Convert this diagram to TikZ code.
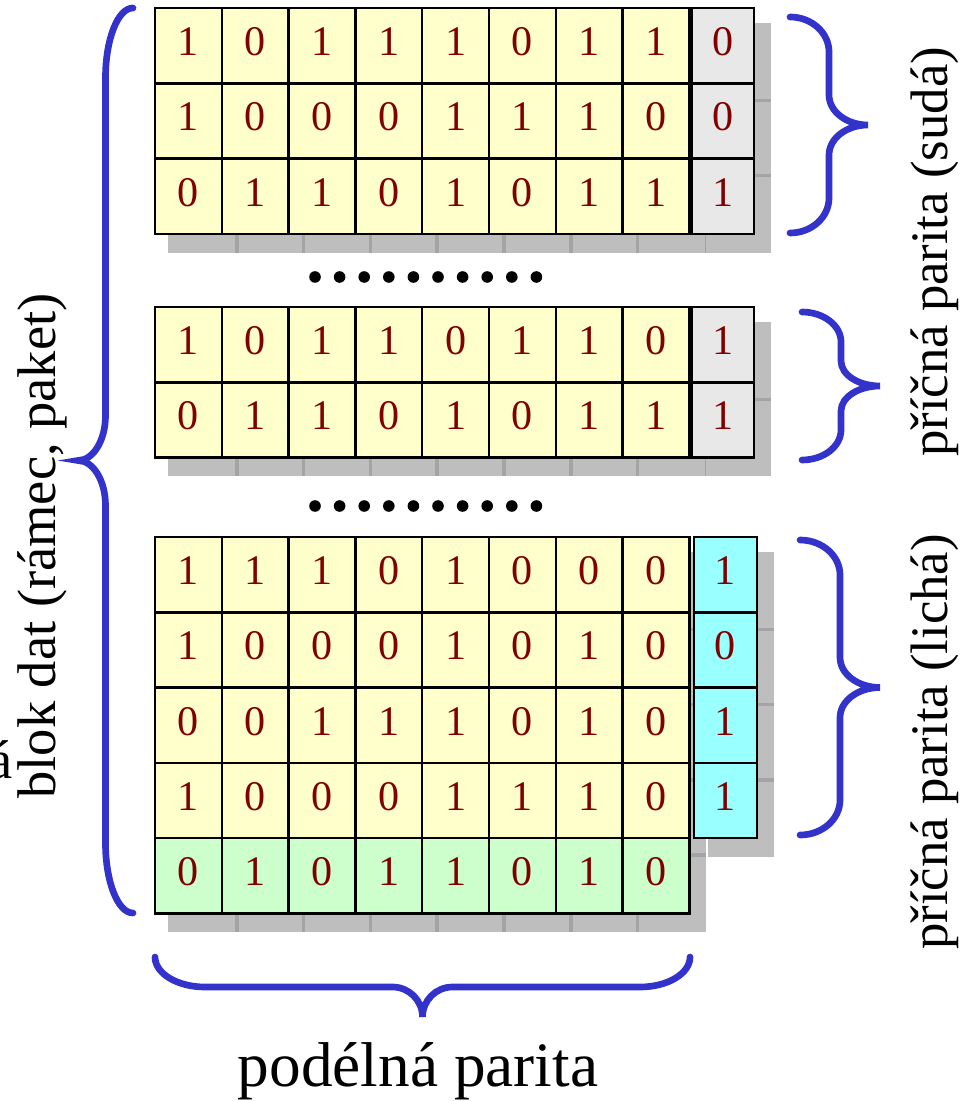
\documentclass[tikz,border=0pt]{standalone}
\usepackage{fontspec}
\setmainfont{Liberation Serif}
\usetikzlibrary{calc, backgrounds}

\definecolor{celly}{RGB}{255,255,204}
\definecolor{cellg}{RGB}{204,255,204}
\definecolor{cellc}{RGB}{153,255,255}
\definecolor{cellp}{RGB}{232,232,232}
\definecolor{bitred}{RGB}{128,0,0}
\definecolor{braceblue}{RGB}{51,51,204}
\definecolor{shadowgray}{RGB}{147,147,147}

\tikzset{
	bit/.style={rectangle, draw=black, line width=0.7pt, inner sep=0pt,
		minimum width=6.68mm, minimum height=7.53mm, text=bitred,
		font=\rmfamily\fontsize{12}{14}\selectfont, text depth=2.3pt},
	pbit/.style={bit, minimum width=6.25mm},
	cellshadow/.style={fill=shadowgray, fill opacity=0.6},
	bracestyle/.style={draw=braceblue, line width=1.9pt, line cap=round},
	lbl/.style={font=\rmfamily\fontsize{15}{18}\selectfont, inner sep=0pt}
}

% shadow under a cell
\newcommand{\castshadow}[1]{%
	\begin{scope}[on background layer]
		\fill[cellshadow] ($(#1.south west)+(0.145,-0.175)$) rectangle ($(#1.north east)+(0.155,-0.165)$);
	\end{scope}}

% brace: start, rotation, length, depth, end curl, tip curl
\newcommand{\parbrace}[6]{%
	\begin{scope}[shift={#1}, rotate=#2]
		\pgfmathsetmacro{\brL}{#3}
		\pgfmathsetmacro{\brD}{#4}
		\pgfmathsetmacro{\brH}{#4/2}
		\pgfmathsetmacro{\brM}{#3/2}
		\draw[bracestyle] (0,0) .. controls (0,{-0.552*\brH}) and ({0.448*#5},-\brH) .. (#5,-\brH)
		-- ({\brM-#6},-\brH) .. controls ({\brM-0.448*#6},-\brH) and (\brM,{-\brD+0.552*\brH}) .. (\brM,-\brD)
		.. controls (\brM,{-\brD+0.552*\brH}) and ({\brM+0.448*#6},-\brH) .. ({\brM+#6},-\brH)
		-- ({\brL-#5},-\brH) .. controls ({\brL-0.448*#5},-\brH) and (\brL,{-0.552*\brH}) .. (\brL,0);
	\end{scope}}

\begin{document}
\begin{tikzpicture}
	\useasboundingbox (0,0) rectangle (9.71,-11.01);
	
	% first block, even parity
	\foreach \row [count=\r] in {{1,0,1,1,1,0,1,1,0},{1,0,0,0,1,1,1,0,0},{0,1,1,0,1,0,1,1,1}} {
		\foreach \b [count=\c] in \row {
			\ifnum\c<9
			\node[bit, fill=celly] (a-\r-\c) at ({1.55+0.668*(\c-0.5)},{-0.08-0.753*(\r-0.5)}) {\b};
			\castshadow{a-\r-\c}
			\else
			\node[pbit, fill=cellp] (a-\r-p) at (7.23,{-0.08-0.753*(\r-0.5)}) {\b};
			\castshadow{a-\r-p}
			\fi
		}
	}
	
	% second block
	\foreach \row [count=\r] in {{1,0,1,1,0,1,1,0,1},{0,1,1,0,1,0,1,1,1}} {
		\foreach \b [count=\c] in \row {
			\ifnum\c<9
			\node[bit, fill=celly] (b-\r-\c) at ({1.55+0.668*(\c-0.5)},{-3.07-0.753*(\r-0.5)}) {\b};
			\castshadow{b-\r-\c}
			\else
			\node[pbit, fill=cellp] (b-\r-p) at (7.23,{-3.07-0.753*(\r-0.5)}) {\b};
			\castshadow{b-\r-p}
			\fi
		}
	}
	
	% third block, odd parity
	\foreach \row [count=\r] in {{1,1,1,0,1,0,0,0,1},{1,0,0,0,1,0,1,0,0},{0,0,1,1,1,0,1,0,1},{1,0,0,0,1,1,1,0,1}} {
		\foreach \b [count=\c] in \row {
			\ifnum\c<9
			\node[bit, fill=celly] (c-\r-\c) at ({1.55+0.668*(\c-0.5)},{-5.37-0.753*(\r-0.5)}) {\b};
			\castshadow{c-\r-\c}
			\else
			\node[pbit, fill=cellc] (c-\r-p) at (7.255,{-5.37-0.753*(\r-0.5)}) {\b};
			\castshadow{c-\r-p}
			\fi
		}
	}
	
	% longitudinal parity row
	\foreach \b [count=\c] in {0,1,0,1,1,0,1,0} {
		\node[bit, fill=cellg] (l-\c) at ({1.55+0.668*(\c-0.5)},{-5.37-0.753*4.5}) {\b};
		\castshadow{l-\c}
	}
	
	% dots
	\foreach \k in {0,...,9} {
		\fill ({3.15+0.246*\k},-2.77) circle (0.058);
		\fill ({3.15+0.246*\k},-5.06) circle (0.058);
	}
	
	% braces
	\parbrace{(1.33,-0.08)}{-90}{9.05}{0.55}{0.7}{0.45}
	\parbrace{(7.90,-2.33)}{90}{2.16}{0.78}{0.35}{0.30}
	\parbrace{(8.02,-4.60)}{90}{1.48}{0.78}{0.30}{0.25}
	\parbrace{(8.00,-8.35)}{90}{2.95}{0.80}{0.35}{0.30}
	\parbrace{(1.55,-9.57)}{0}{5.35}{0.60}{0.50}{0.30}
	
	% labels
	\node[lbl, font=\rmfamily\fontsize{15.5}{18}\selectfont, rotate=90, anchor=base] (blok) at (0.55,-5.46) {blok dat (rámec, paket)};
	\node[lbl, font=\rmfamily\fontsize{15.5}{18}\selectfont, anchor=base] (cut) at (0.01,-7.78) {á};
	\node[lbl, rotate=90, anchor=base] (suda) at (9.47,-2.52) {příčná parita (sudá)};
	\node[lbl, rotate=90, anchor=base] (licha) at (9.47,-7.42) {příčná parita (lichá)};
	\node[lbl, font=\rmfamily\fontsize{18}{21}\selectfont, anchor=base] (podel) at (4.18,-10.86) {podélná parita};
\end{tikzpicture}
\end{document}
